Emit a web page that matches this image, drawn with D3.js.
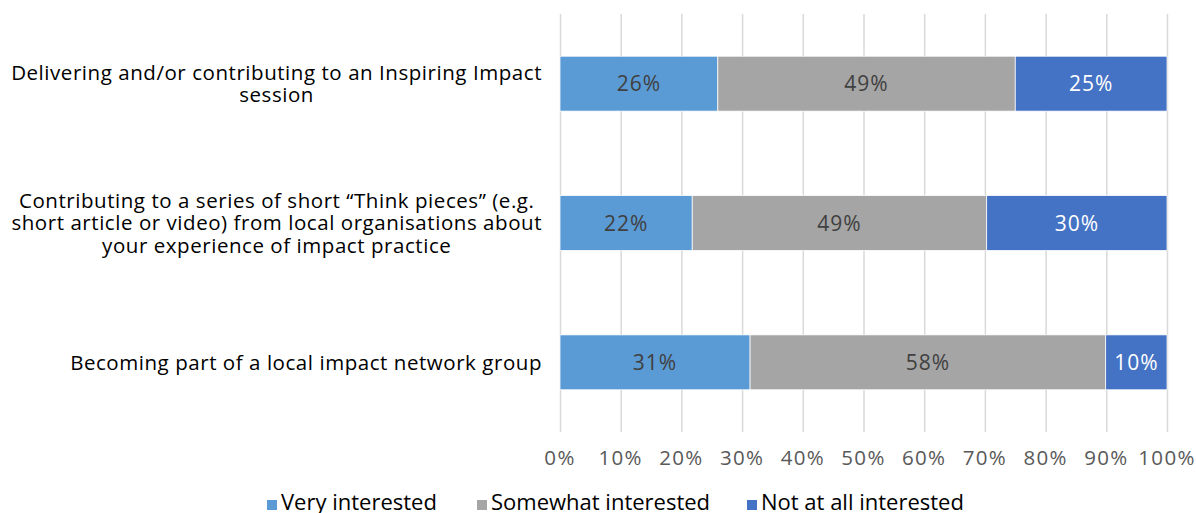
<!DOCTYPE html>
<html>
<head>
<meta charset="utf-8">
<script src="https://cdn.jsdelivr.net/npm/d3@7"></script>
<style>
  html, body { margin: 0; padding: 0; background: #fff; }
  svg { display: block; font-family: "Open Sans", "Noto Sans", sans-serif; }
</style>
</head>
<body>
<svg id="chart" width="1196" height="513"></svg>
<script>
// Share of respondents by level of interest in each activity
const categories = [
  ["Delivering and/or contributing to an Inspiring Impact", "session"],
  ["Contributing to a series of short \u201cThink pieces\u201d (e.g.", "short article or video) from local organisations about", "your experience of impact practice"],
  ["Becoming part of a local impact network group"]
];
const seriesNames = ["Very interested", "Somewhat interested", "Not at all interested"];
const veryInterested = [26, 22, 31];
const somewhatInterested = [49, 49, 58];
const notAtAllInterested = [25, 30, 10];
const tickValues = [0, 10, 20, 30, 40, 50, 60, 70, 80, 90, 100];

const colors = ["#5B9BD5", "#A5A5A5", "#4472C4"];
const labelColors = ["#404040", "#404040", "#ffffff"];

const svg = d3.select("#chart");
const plot = { left: 560, right: 1167, top: 14, bottom: 432 };

const x = d3.scaleLinear().domain([0, 100]).range([plot.left, plot.right]);
const y = d3.scaleBand()
  .domain(d3.range(categories.length))
  .range([plot.top, plot.bottom])
  .paddingInner(0.606)
  .paddingOuter(0.303);

// Gridlines
svg.append("g")
  .selectAll("line")
  .data(tickValues)
  .join("line")
  .attr("x1", d => x(d) + 0.5)
  .attr("x2", d => x(d) + 0.5)
  .attr("y1", plot.top)
  .attr("y2", plot.bottom)
  .attr("stroke", "#d9d9d9")
  .attr("stroke-width", 1.5);

// Stack the three series, normalised to each row's total
const rows = categories.map((c, i) => {
  const vals = [veryInterested[i], somewhatInterested[i], notAtAllInterested[i]];
  const total = d3.sum(vals);
  let acc = 0;
  return vals.map((v, k) => {
    const seg = { row: i, k, value: v, x0: acc / total * 100, x1: (acc + v) / total * 100 };
    acc += v;
    return seg;
  });
});
const segments = rows.flat();

const bars = svg.append("g");
bars.selectAll("rect")
  .data(segments)
  .join("rect")
  .attr("x", d => x(d.x0))
  .attr("width", d => x(d.x1) - x(d.x0))
  .attr("y", d => y(d.row))
  .attr("height", y.bandwidth())
  .attr("fill", d => colors[d.k])
  .attr("stroke", "#ffffff")
  .attr("stroke-width", 0.75);

bars.selectAll("text")
  .data(segments)
  .join("text")
  .attr("x", d => (x(d.x0) + x(d.x1)) / 2)
  .attr("y", d => y(d.row) + y.bandwidth() / 2)
  .attr("dy", "0.36em")
  .attr("text-anchor", "middle")
  .attr("font-size", 21)
  .attr("letter-spacing", 1)
  .attr("fill", d => labelColors[d.k])
  .text(d => d.value + "%");

// X axis tick labels
svg.append("g")
  .selectAll("text")
  .data(tickValues)
  .join("text")
  .attr("x", d => x(d))
  .attr("y", 465)
  .attr("text-anchor", "middle")
  .attr("font-size", 20.5)
  .attr("letter-spacing", 1.3)
  .attr("fill", "#595959")
  .text(d => d + "%");

// Category labels: lines centred within a block right-aligned to the axis
const lineH = 22.5;
const catG = svg.append("g");
categories.forEach((lines, i) => {
  const cy = y(i) + y.bandwidth() / 2;
  const g = catG.append("g");
  const texts = g.selectAll("text")
    .data(lines)
    .join("text")
    .attr("y", (d, j) => cy + (j - (lines.length - 1) / 2) * lineH)
    .attr("dy", "0.36em")
    .attr("text-anchor", "middle")
    .attr("font-size", 20.5)
    .attr("letter-spacing", 0.55)
    .attr("fill", "#000")
    .text(d => d);
  const w = d3.max(texts.nodes(), n => n.getComputedTextLength());
  texts.attr("x", 542 - w / 2);
});

// Legend
const legendX = [267, 477, 747];
const leg = svg.append("g");
seriesNames.forEach((name, k) => {
  leg.append("rect")
    .attr("x", legendX[k])
    .attr("y", 500)
    .attr("width", 10)
    .attr("height", 10)
    .attr("fill", colors[k]);
  leg.append("text")
    .attr("x", legendX[k] + 14)
    .attr("y", 510)
    .attr("font-size", 22)
    .attr("fill", "#000")
    .text(name);
});
</script>
</body>
</html>
